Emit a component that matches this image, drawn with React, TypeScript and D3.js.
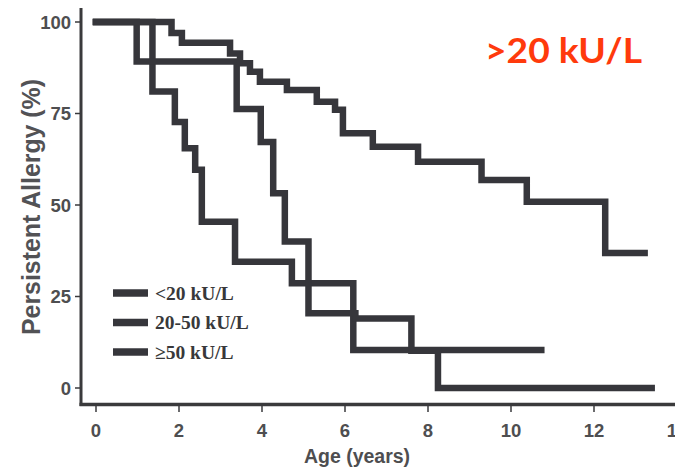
import React from 'react';
import * as d3 from 'd3';

const X_TICKS = [0, 2, 4, 6, 8, 10, 12, 14];
const Y_TICKS = [0, 25, 50, 75, 100];
const LEGEND_LABELS = ['<20 kU/L', '20-50 kU/L', '\u226550 kU/L'];
const TITLE = '>20 kU/L';
const X_LABEL = 'Age (years)';
const Y_LABEL = 'Persistent Allergy (%)';

// <20 kU/L (steepest curve)
const TIME_LOW = [0, 1.36, 1.9, 2.14, 2.39, 2.55, 3.35, 4.72, 6.2, 10.73];
const PCT_LOW = [100, 81, 72.7, 65.5, 59.6, 45.4, 34.5, 28.6, 10.4, 10.4];
// 20-50 kU/L
const TIME_MID = [0, 0.98, 3.39, 3.97, 4.27, 4.55, 5.12, 6.25, 7.6, 8.24, 13.39];
const PCT_MID = [100, 89.2, 76.2, 67.2, 53.2, 40, 20.4, 19, 10.2, 0, 0];
// >=50 kU/L (most persistent)
const TIME_HIGH = [0, 1.82, 2.07, 3.23, 3.47, 3.71, 3.95, 4.6, 5.32, 5.76, 5.95, 6.67, 7.76, 9.29, 10.38, 12.27, 13.22];
const PCT_HIGH = [100, 97, 94.3, 91.4, 88.7, 86.4, 83.7, 81.4, 78.2, 76, 69.6, 65.9, 61.8, 56.8, 50.9, 36.9, 36.9];

const SERIES = [
  { times: TIME_LOW, pcts: PCT_LOW },
  { times: TIME_MID, pcts: PCT_MID },
  { times: TIME_HIGH, pcts: PCT_HIGH },
];

export default function App() {
  const W = 675;
  const H = 470;
  const x = d3.scaleLinear().domain([0, 14]).range([96, 677]);
  const y = d3.scaleLinear().domain([0, 100]).range([388, 22]);
  const line = d3
    .line<[number, number]>()
    .x((d) => x(d[0]))
    .y((d) => y(d[1]))
    .curve(d3.curveStepAfter);

  const curveColor = '#36363b';
  const axisColor = '#3a3a3c';
  const textColor = '#4e4e50';
  const axisX = 81;
  const axisY = 404.5;

  return (
    <svg
      width={W}
      height={H}
      style={{ position: 'absolute', left: 0, top: 0, background: '#ffffff' }}
    >
      {/* Y axis */}
      <line x1={axisX} x2={axisX} y1={8} y2={406} stroke={axisColor} strokeWidth={3} />
      {Y_TICKS.map((t) => (
        <g key={'y' + t}>
          <line x1={75} x2={axisX} y1={y(t)} y2={y(t)} stroke={axisColor} strokeWidth={1.5} />
          <text
            x={71}
            y={y(t)}
            dy="0.36em"
            textAnchor="end"
            fontFamily="'Liberation Sans', Arial, sans-serif"
            fontWeight="bold"
            fontSize={18.5}
            fill={textColor}
          >
            {t}
          </text>
        </g>
      ))}
      {/* X axis */}
      <line x1={79.5} x2={W} y1={axisY} y2={axisY} stroke={axisColor} strokeWidth={3.5} />
      {X_TICKS.map((t) => (
        <g key={'x' + t}>
          <line x1={x(t)} x2={x(t)} y1={axisY} y2={412} stroke={axisColor} strokeWidth={1.5} />
          <text
            x={x(t)}
            y={437}
            textAnchor="middle"
            fontFamily="'Liberation Sans', Arial, sans-serif"
            fontWeight="bold"
            fontSize={18.5}
            fill={textColor}
          >
            {t}
          </text>
        </g>
      ))}
      <text
        x={357}
        y={463}
        textAnchor="middle"
        fontFamily="'Liberation Sans', Arial, sans-serif"
        fontWeight="bold"
        fontSize={19.5}
        fill={textColor}
      >
        {X_LABEL}
      </text>
      <text
        transform="translate(40,207) rotate(-90)"
        textAnchor="middle"
        fontFamily="'Liberation Sans', Arial, sans-serif"
        fontWeight="bold"
        fontSize={25}
        textLength={256}
        lengthAdjust="spacingAndGlyphs"
        fill="#525255"
      >
        {Y_LABEL}
      </text>

      {/* Curves */}
      {SERIES.map((s, i) => (
        <path
          key={'s' + i}
          d={line(s.times.map((t, j) => [t, s.pcts[j]] as [number, number])) || ''}
          fill="none"
          stroke={curveColor}
          strokeWidth={6.5}
          strokeLinecap="square"
          strokeLinejoin="miter"
        />
      ))}

      {/* Legend */}
      {LEGEND_LABELS.map((lab, i) => {
        const cy = 293 + i * 29.5;
        return (
          <g key={'l' + i}>
            <line x1={113} x2={148} y1={cy} y2={cy} stroke={curveColor} strokeWidth={7.5} />
            <text
              x={155}
              y={cy + 6.5}
              fontFamily="'Liberation Serif', 'Times New Roman', serif"
              fontWeight="bold"
              fontSize={19.5}
              fill="#38383a"
            >
              {lab}
            </text>
          </g>
        );
      })}

      {/* Title annotation */}
      <text
        x={485}
        y={63}
        fontFamily="Lato, 'Open Sans', sans-serif"
        fontWeight="bold"
        fontSize={35}
        textLength={157}
        lengthAdjust="spacingAndGlyphs"
        fill="#ff3a0c"
      >
        {TITLE}
      </text>
    </svg>
  );
}
